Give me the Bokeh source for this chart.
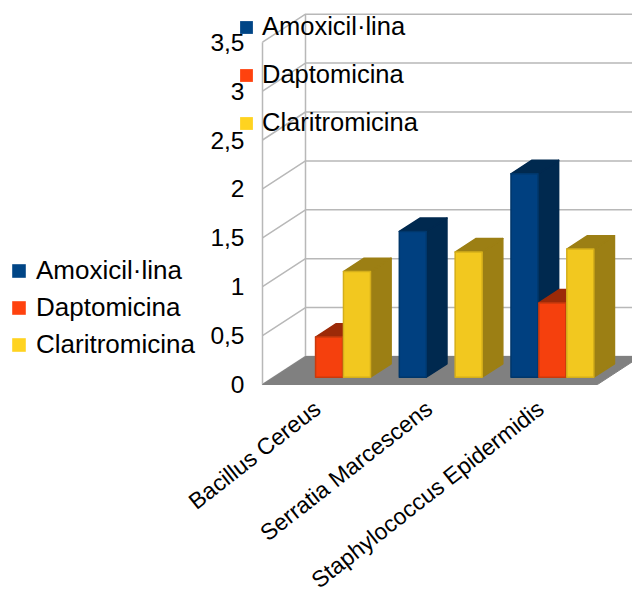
from bokeh.core.properties import value
from bokeh.embed import file_html
from bokeh.models import Legend, LegendItem, Range1d
from bokeh.plotting import figure
from bokeh.resources import INLINE

categories = ["Bacillus Cereus", "Serratia Marcescens", "Staphylococcus Epidermidis"]
series_names = ["Amoxicil·lina", "Daptomicina", "Claritromicina"]
amoxicillina = [None, 1.49, 2.08]
daptomicina = [0.41, None, 0.76]
claritromicina = [1.08, 1.28, 1.31]
y_ticks = [0, 0.5, 1, 1.5, 2, 2.5, 3, 3.5]
y_labels = ["0", "0,5", "1", "1,5", "2", "2,5", "3", "3,5"]

legend_colors = ["#004586", "#ff420e", "#ffd320"]
front_colors = ["#004080", "#f5400d", "#f2c81f"]
side_colors = ["#00294f", "#00294f", "#9c7f14"]
top_colors = ["#00294f", "#9c2a08", "#9c7f14"]
edge_colors = ["#00376b", "#c93a0c", "#d4ae1b"]

FONT = "Liberation Sans"
W, H = 632, 590
PX_X = 111.67   # pixels per category
PX_Y = 97.8     # pixels per unit of value
ORIGIN_X, ORIGIN_Y = 262, 384   # pixel of the floor's front left corner

# The scene is an oblique box: depth 0 is the front edge of the floor, 1 the back wall.
DX = 43 / PX_X
DY = 28 / PX_Y
FLOOR_L, FLOOR_R = -0.5, 2.5
TOP = 3.5
SLOT = 0.25
BAR_W = 0.242
Z0, Z1 = 0.26, 0.74

x0 = FLOOR_L - ORIGIN_X / PX_X
y0 = -(H - ORIGIN_Y) / PX_Y
p = figure(width=W, height=H, min_border=0,
           x_range=Range1d(x0, x0 + W / PX_X), y_range=Range1d(y0, y0 + H / PX_Y),
           x_axis_type=None, y_axis_type=None,
           output_backend="svg", toolbar_location=None, outline_line_color=None)
p.background_fill_color = "white"
p.border_fill_color = "white"
p.grid.visible = False

GRID = "#b8b8b8"
# Back wall and side wall grid lines
for t in y_ticks:
    p.line([FLOOR_L, FLOOR_L + DX, FLOOR_R + DX], [t, t + DY, t + DY], line_color=GRID, line_width=1.5)
p.line([FLOOR_L, FLOOR_L], [0, TOP], line_color=GRID, line_width=1.5)
p.line([FLOOR_L + DX, FLOOR_L + DX], [DY, TOP + DY], line_color=GRID, line_width=1.5)
# Floor, in front of the zero grid line
p.patch([FLOOR_L, FLOOR_R, FLOOR_R + DX, FLOOR_L + DX], [0, 0, DY, DY],
        fill_color="#808080", line_color="#808080", line_width=1)

all_series = [amoxicillina, daptomicina, claritromicina]
swatches = []
for k, values in enumerate(all_series):
    rows = [(i, v) for i, v in enumerate(values) if v is not None]
    lefts = [i + (k - 1.5) * SLOT + Z0 * DX for i, _ in rows]
    rights = [l + BAR_W for l in lefts]
    base = Z0 * DY
    dx = (Z1 - Z0) * DX
    dy = (Z1 - Z0) * DY
    tops = [v + base for _, v in rows]
    # side face, top face, then the front face shaded over the flat series colour
    p.patches([[r, r + dx, r + dx, r] for r in rights],
              [[base, base + dy, t + dy, t] for t in tops],
              fill_color=side_colors[k], line_color=side_colors[k], line_width=1.5, line_join="round")
    p.patches([[l, l + dx, r + dx, r] for l, r in zip(lefts, rights)],
              [[t, t + dy, t + dy, t] for t in tops],
              fill_color=top_colors[k], line_color=top_colors[k], line_width=1.5, line_join="round")
    swatches.append(p.quad(left=lefts, right=rights, bottom=[base] * len(rows), top=tops,
                           fill_color=legend_colors[k], line_color=None))
    p.quad(left=lefts, right=rights, bottom=[base] * len(rows), top=tops,
           fill_color=front_colors[k], line_color=edge_colors[k], line_width=1.5, line_join="round")

# Value labels along the front edge of the side wall
p.text(x=[FLOOR_L - 18 / PX_X] * len(y_ticks), y=y_ticks, text=y_labels,
       text_font=value(FONT), text_font_size="24.5px", text_color="black",
       text_align="right", text_baseline="middle")

# Category labels, slanted and ending under each group
p.text(x=[i - 1 / PX_X for i in range(len(categories))], y=[-21 / PX_Y] * len(categories), text=categories,
       angle=0.665, text_font=value(FONT), text_font_size="23px", text_color="black",
       text_align="right", text_baseline="middle")


def make_legend(location, spacing, size, glyph, standoff):
    items = [LegendItem(label=n, renderers=[r]) for n, r in zip(series_names, swatches)]
    return Legend(items=items, location=location, orientation="vertical", spacing=spacing,
                  glyph_width=glyph, glyph_height=glyph, label_standoff=standoff, margin=0, padding=0,
                  background_fill_alpha=0, border_line_color=None,
                  label_text_font=FONT, label_text_font_size=size, label_text_color="black",
                  click_policy="none")


# Series key to the left of the chart and the second one over the walls
p.add_layout(make_legend((10, 230), 6, "26px", 17, 9), "center")
p.add_layout(make_legend((238, 453), 19, "25.5px", 16, 8), "center")

open("out.html", "w").write(file_html(p, INLINE))
